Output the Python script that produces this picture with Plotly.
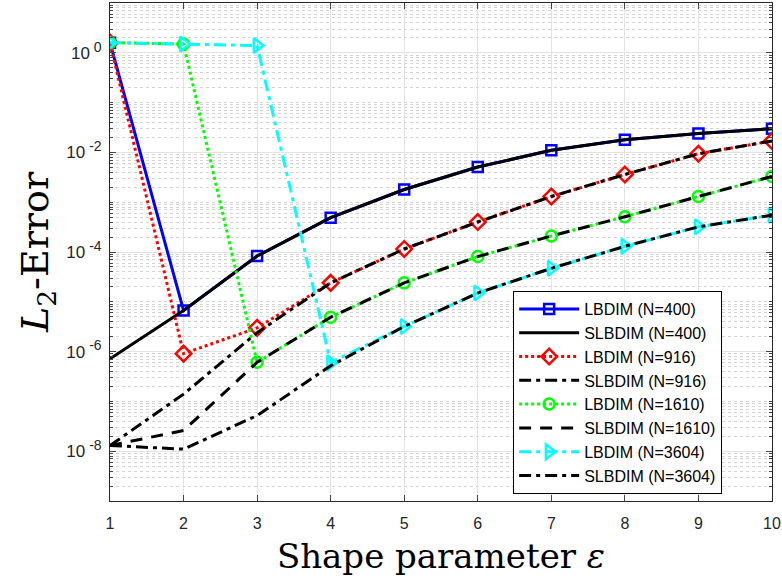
import plotly.graph_objects as go

eps = [1, 2, 3, 4, 5, 6, 7, 8, 9, 10]

lbdim_400 = [1.6, 6.7e-6, 8.3e-5, 4.9e-4, 1.8e-3, 5.1e-3, 1.1e-2, 1.8e-2, 2.4e-2, 3.0e-2]
slbdim_400 = [7.2e-7, 6.7e-6, 8.3e-5, 4.9e-4, 1.8e-3, 5.1e-3, 1.1e-2, 1.8e-2, 2.4e-2, 3.0e-2]
lbdim_916 = [1.6, 9.1e-7, 3.0e-6, 2.4e-5, 1.15e-4, 4.0e-4, 1.3e-3, 3.6e-3, 9.4e-3, 1.7e-2]
slbdim_916 = [1.3e-8, 1.4e-7, 2.4e-6, 2.4e-5, 1.15e-4, 4.0e-4, 1.3e-3, 3.6e-3, 9.4e-3, 1.7e-2]
lbdim_1610 = [1.6, 1.5, 6.1e-7, 4.9e-6, 2.4e-5, 8.1e-5, 2.1e-4, 5.1e-4, 1.3e-3, 3.3e-3]
slbdim_1610 = [1.3e-8, 2.6e-8, 6.1e-7, 4.9e-6, 2.4e-5, 8.1e-5, 2.1e-4, 5.1e-4, 1.3e-3, 3.3e-3]
lbdim_3604 = [1.6, 1.5, 1.4, 6.0e-7, 3.2e-6, 1.5e-5, 4.7e-5, 1.3e-4, 3.2e-4, 5.5e-4]
slbdim_3604 = [1.3e-8, 1.1e-8, 5.2e-8, 5.2e-7, 3.2e-6, 1.5e-5, 4.7e-5, 1.3e-4, 3.2e-4, 5.5e-4]

y_tick_vals = [1e-8, 1e-6, 1e-4, 1e-2, 1e0]
y_exponents = ["-8", "-6", "-4", "-2", "0"]
y_tick_text = ["10<sup><span style='font-size:14px'> %s</span></sup>" % e for e in y_exponents]
x_tick_vals = [1, 2, 3, 4, 5, 6, 7, 8, 9, 10]
y_minor_vals = [m * 10.0 ** k for k in range(-9, 1) for m in range(1, 10)] + [10.0]

DASHDOT = "12px,5px,4px,5px"
DASH = "12px,9px"
DOT = "3px,3px"

series = [
    ("LBDIM (N=400)", lbdim_400, "#0000ff", "solid", "square-open", 10),
    ("SLBDIM (N=400)", slbdim_400, "#000000", "solid", None, 0),
    ("LBDIM (N=916)", lbdim_916, "#ff0000", DOT, "diamond-open", 12),
    ("SLBDIM (N=916)", slbdim_916, "#000000", DASHDOT, None, 0),
    ("LBDIM (N=1610)", lbdim_1610, "#00ff00", DOT, "circle-open", 11),
    ("SLBDIM (N=1610)", slbdim_1610, "#000000", DASH, None, 0),
    ("LBDIM (N=3604)", lbdim_3604, "#00ffff", DASHDOT, "triangle-right-open", 13),
    ("SLBDIM (N=3604)", slbdim_3604, "#000000", DASHDOT, None, 0),
]

fig = go.Figure()
for name, ys, color, dash, sym, size in series:
    if sym:
        fig.add_trace(go.Scatter(
            x=eps, y=ys, name=name, mode="lines+markers",
            line=dict(color=color, width=3, dash=dash),
            marker=dict(symbol=sym, size=size, color=color, line=dict(color=color, width=2.5)),
        ))
    else:
        fig.add_trace(go.Scatter(
            x=eps, y=ys, name=name, mode="lines",
            line=dict(color=color, width=3, dash=dash),
        ))

axis_color = "#262626"
title_font = "DejaVu Serif, Liberation Serif, serif"
fig.update_layout(
    width=782, height=581,
    margin=dict(l=110, r=10, t=3, b=80, autoexpand=False),
    paper_bgcolor="white", plot_bgcolor="white",
    font=dict(family="Liberation Sans, Arial, sans-serif", color=axis_color, size=16),
    legend=dict(
        x=0.609, y=0.4217, xanchor="left", yanchor="top",
        bgcolor="white", bordercolor="#000000", borderwidth=1,
        font=dict(family="Liberation Sans, Arial, sans-serif", size=16, color="#000000"),
        itemwidth=60, tracegroupgap=0,
        entrywidth=200, entrywidthmode="pixels",
    ),
    xaxis=dict(
        range=[1, 10], tickvals=x_tick_vals, ticks="inside", ticklen=6,
        showline=True, linecolor=axis_color, linewidth=1, mirror="ticks",
        showgrid=True, gridcolor="#e3e3e3", gridwidth=1, zeroline=False,
        tickfont=dict(size=16), automargin=False, ticklabelstandoff=8,
        title=dict(text="Shape parameter <i>ε</i>", font=dict(family=title_font, size=34, color="#000000"), standoff=12),
    ),
    yaxis=dict(
        type="log", range=[-9, 1], tickvals=y_tick_vals, ticktext=y_tick_text,
        ticks="inside", ticklen=6, automargin=False, ticklabelstandoff=4,
        showline=True, linecolor=axis_color, linewidth=1, mirror="ticks",
        showgrid=True, gridcolor="#e3e3e3", gridwidth=1, zeroline=False,
        tickfont=dict(size=17),
        minor=dict(tickmode="array", tickvals=y_minor_vals, ticks="inside", ticklen=3,
                   showgrid=True, gridcolor="#d4d4d4", griddash="dot", gridwidth=1),
        title=dict(text="<i>L</i><sub>2</sub>-Error", font=dict(family=title_font, size=38, color="#000000"), standoff=6),
    ),
)

fig.write_html(
    "out.html",
    config={"displayModeBar": False},
    post_script="document.body.style.margin='0';document.body.style.padding='0';document.body.style.overflow='hidden';",
)
